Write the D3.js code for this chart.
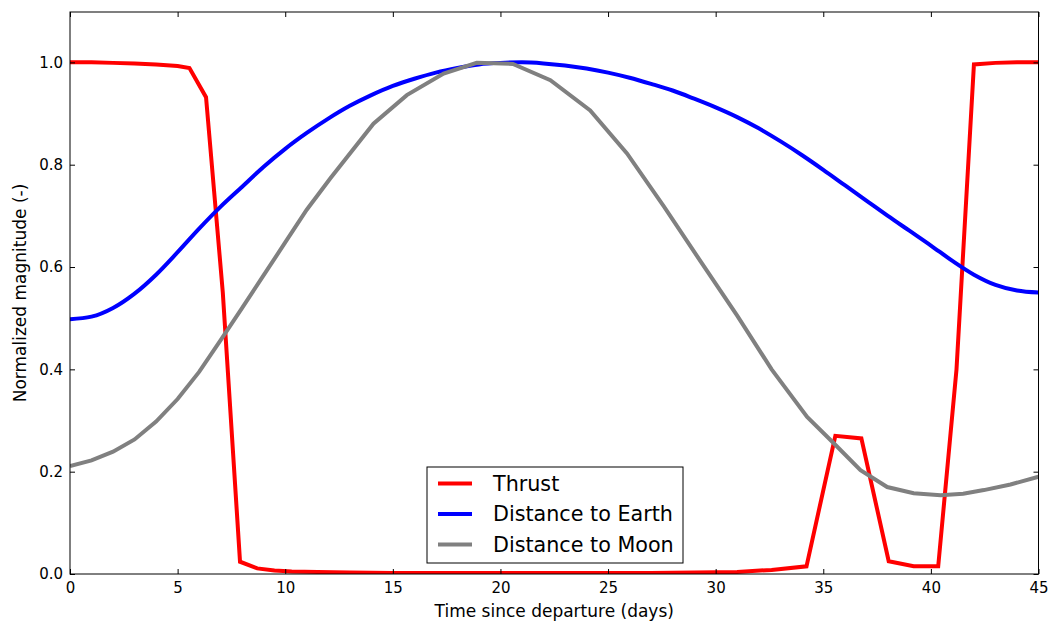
<!DOCTYPE html>
<html>
<head>
  <script src="https://d3js.org/d3.v7.min.js"></script>
  <style>
    body { margin: 0; background: #fff; }
    text { font-family: "DejaVu Sans", sans-serif; fill: #000; }
  </style>
</head>
<body>
  <script>
    // data
    var thrustDays = [0, 1, 2, 3, 4, 5, 5.55, 6.32, 7.1, 7.9, 8.7, 9.5, 10.3, 11.5, 13, 15, 17, 19, 21, 23, 25, 27, 29, 31, 32.6, 34.22, 35.56, 36.77, 38.04, 39.2, 40.34, 41.19, 42.0, 43, 44, 45];
    var thrust = [1.0, 1.0, 0.999, 0.998, 0.996, 0.993, 0.989, 0.932, 0.55, 0.024, 0.011, 0.007, 0.005, 0.004, 0.003, 0.002, 0.002, 0.002, 0.002, 0.002, 0.002, 0.002, 0.003, 0.004, 0.008, 0.015, 0.27, 0.265, 0.025, 0.015, 0.015, 0.40, 0.996, 0.999, 1.0, 1.0];

    var earthDays = d3.range(0, 46);
    var earthDist = [0.498, 0.503, 0.52, 0.548, 0.585, 0.629, 0.675, 0.718, 0.757, 0.796, 0.831, 0.862, 0.89, 0.915, 0.936, 0.954, 0.968, 0.98, 0.989, 0.996, 0.999, 1.0, 0.998, 0.994, 0.988, 0.98, 0.97, 0.958, 0.945, 0.929, 0.912, 0.893, 0.871, 0.846, 0.819, 0.79, 0.76, 0.73, 0.70, 0.671, 0.642, 0.612, 0.585, 0.565, 0.554, 0.55];

    var moonDays = [0, 1, 2, 3, 4, 5, 6, 7, 8, 9, 10, 11, 12.09, 14.1, 15.65, 17.36, 18.9, 20.58, 22.32, 24.17, 25.88, 27.6, 29.3, 31.0, 32.6, 34.25, 35.5, 36.73, 37.97, 39.2, 40.45, 41.5, 42.46, 43.7, 45];
    var moonDist = [0.211, 0.222, 0.239, 0.263, 0.298, 0.342, 0.395, 0.457, 0.52, 0.584, 0.648, 0.712, 0.773, 0.88, 0.936, 0.978, 0.999, 0.997, 0.965, 0.906, 0.822, 0.718, 0.611, 0.505, 0.40, 0.307, 0.255, 0.203, 0.17, 0.158, 0.154, 0.157, 0.164, 0.175, 0.19];

    var xTicks = [0, 5, 10, 15, 20, 25, 30, 35, 40, 45];
    var yTicks = [0, 0.2, 0.4, 0.6, 0.8, 1.0];

    var series = [
      {name: "Thrust", color: "#ff0000", days: thrustDays, vals: thrust, curve: d3.curveLinear},
      {name: "Distance to Earth", color: "#0000ff", days: earthDays, vals: earthDist, curve: d3.curveMonotoneX},
      {name: "Distance to Moon", color: "#808080", days: moonDays, vals: moonDist, curve: d3.curveLinear}
    ];

    var W = 1050, H = 626;
    var pLeft = 70, pRight = 1038.5, pTop = 12, pBottom = 574;

    var svg = d3.select("body").append("svg")
        .attr("width", W)
        .attr("height", H);

    var x = d3.scaleLinear().domain([0, 45]).range([pLeft, pRight]);
    var y = d3.scaleLinear().domain([0, 1.1]).range([pBottom, pTop - 0.8]);

    svg.append("clipPath").attr("id", "plotclip")
      .append("rect")
        .attr("x", pLeft).attr("y", pTop)
        .attr("width", pRight - pLeft).attr("height", pBottom - pTop);

    // draw order: thrust, earth, moon (moon on top)
    svg.append("g").attr("clip-path", "url(#plotclip)")
      .selectAll("path")
      .data(series)
      .enter().append("path")
        .attr("fill", "none")
        .attr("stroke", function(d) { return d.color; })
        .attr("stroke-width", 4)
        .attr("stroke-linejoin", "miter")
        .attr("d", function(d) {
          var line = d3.line()
              .curve(d.curve)
              .x(function(p) { return x(p[0]); })
              .y(function(p) { return y(p[1]); });
          return line(d.days.map(function(t, i) { return [t, d.vals[i]]; }));
        });

    // axes, ticks pointing inward like matplotlib classic
    var tickLen = 5;
    var axB = svg.append("g").attr("transform", "translate(0," + pBottom + ")")
        .call(d3.axisBottom(x).tickValues(xTicks).tickSizeInner(-tickLen).tickSizeOuter(0).tickPadding(8)
          .tickFormat(d3.format("d")));
    var axT = svg.append("g").attr("transform", "translate(0," + pTop + ")")
        .call(d3.axisTop(x).tickValues(xTicks).tickSizeInner(-tickLen).tickSizeOuter(0).tickFormat(""));
    var axL = svg.append("g").attr("transform", "translate(" + pLeft + ",0)")
        .call(d3.axisLeft(y).tickValues(yTicks).tickSizeInner(-tickLen).tickSizeOuter(0).tickPadding(7)
          .tickFormat(d3.format(".1f")));
    var axR = svg.append("g").attr("transform", "translate(" + pRight + ",0)")
        .call(d3.axisRight(y).tickValues(yTicks).tickSizeInner(-tickLen).tickSizeOuter(0).tickFormat(""));

    [axB, axT, axL, axR].forEach(function(a) {
      a.select(".domain").remove();
      a.selectAll("line").attr("stroke", "#000");
      a.selectAll("text").style("font-size", "15px").style("font-family", "DejaVu Sans");
    });

    svg.append("rect")
        .attr("x", pLeft).attr("y", pTop)
        .attr("width", pRight - pLeft).attr("height", pBottom - pTop)
        .attr("fill", "none").attr("stroke", "#000").attr("stroke-width", 1);

    svg.append("text")
        .attr("x", (pLeft + pRight) / 2).attr("y", 617)
        .attr("text-anchor", "middle")
        .style("font-size", "17px")
        .text("Time since departure (days)");

    svg.append("text")
        .attr("transform", "translate(26," + ((pTop + pBottom) / 2) + ") rotate(-90)")
        .attr("text-anchor", "middle")
        .style("font-size", "17px")
        .text("Normalized magnitude (-)");

    // legend
    var lg = svg.append("g").attr("transform", "translate(427,467)");
    lg.append("rect")
        .attr("width", 256).attr("height", 96)
        .attr("fill", "#fff").attr("stroke", "#000").attr("stroke-width", 1);
    var item = lg.selectAll("g.item")
        .data(series)
        .enter().append("g").attr("class", "item")
        .attr("transform", function(d, i) { return "translate(0," + (16.5 + i * 30.5) + ")"; });
    item.append("line")
        .attr("x1", 11).attr("x2", 45)
        .attr("stroke", function(d) { return d.color; })
        .attr("stroke-width", 4);
    item.append("text")
        .attr("x", 66).attr("dy", "0.35em")
        .style("font-size", "20.7px")
        .text(function(d) { return d.name; });
  </script>
</body>
</html>
